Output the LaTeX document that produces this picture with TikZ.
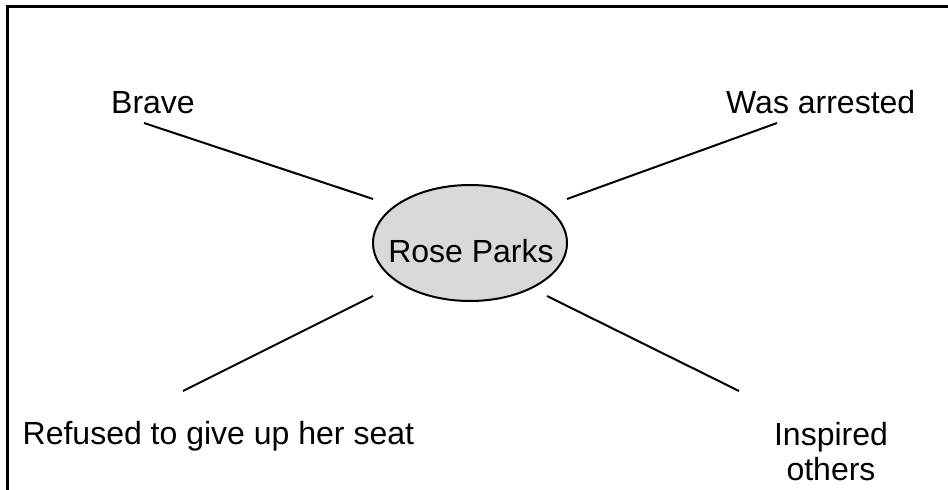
\documentclass[tikz,border=0pt]{standalone}
\usepackage{fontspec}
\setmainfont{Liberation Sans}
\usepackage{xcolor}
\usepackage{tikz}
\usetikzlibrary{shapes.geometric,positioning}
\definecolor{roseFill}{HTML}{D9D9D9}

\begin{document}
\begin{tikzpicture}[x=1pt,y=-1pt,
            spoke/.style={line width=2pt},
            main node/.style={ellipse,draw,fill=roseFill,line width=2pt,
            minimum width=194pt,minimum height=116pt,inner sep=0pt},
            word/.style={inner sep=0pt,font=\fontsize{32}{35}\selectfont}]

            \useasboundingbox (0,0) rectangle (948,490);
            \draw [line width=3pt] (948,6.5) -- (7.7,6.5) -- (7.7,490);

            \node[main node] (RoseParks) at (470,243) {};
            \node[word, anchor=base] (RoseParksText) at (471,262) {Rose Parks};

            \node[word, anchor=base west] (Brave) at (111,113) {Brave};
            \node[word, anchor=base west] (WasArrested) at (726,113) {Was arrested};
            \node[word, anchor=base west] (RefusedSeat) at (22.5,444) {Refused to give up her seat};
            \node[word, anchor=base, align=center] (InspiredOthers) at (831,480) {Inspired\\others};

            \coordinate (BraveFoot) at (144,123);
            \coordinate (BraveHead) at (373,199);
            \coordinate (ArrestedFoot) at (777,123);
            \coordinate (ArrestedHead) at (567,199);
            \coordinate (RefusedHead) at (373,296);
            \coordinate (RefusedFoot) at (183,391);
            \coordinate (InspiredHead) at (547,296);
            \coordinate (InspiredFoot) at (739,391);

            \draw [spoke] (BraveFoot) edge (BraveHead) (ArrestedFoot) edge (ArrestedHead);
            \draw [spoke] (RefusedHead) edge (RefusedFoot) (InspiredHead) edge (InspiredFoot);
          \end{tikzpicture}
\end{document}
